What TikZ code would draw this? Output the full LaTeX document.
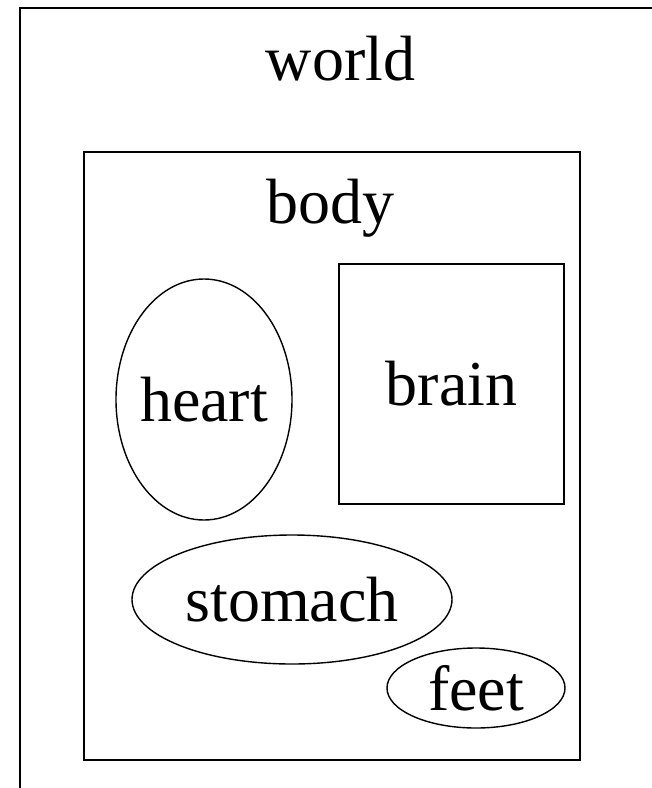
\documentclass[tikz,border=0pt]{standalone}
\usepackage{fontspec}
\setmainfont{Liberation Serif}
\usetikzlibrary{shapes.geometric}
\begin{document}
\begin{tikzpicture}[x=1pt,y=-1pt,
  font=\fontsize{64}{72}\selectfont,
  boxline/.style={draw, line width=2pt, rectangle, inner sep=0pt},
  ovalpart/.style={draw, line width=1.4pt, ellipse, inner sep=0pt},
  lbl/.style={anchor=base, inner sep=0pt}]
\useasboundingbox (0,0) rectangle (652,788);
\clip (0,0) rectangle (652,788);
\fill[white] (0,0) rectangle (652,788);
\node[boxline, minimum width=660pt, minimum height=812pt] (world) at (350,414) {};
\node[lbl] (worldlbl) at (340.5,80) {world};
\node[boxline, minimum width=496pt, minimum height=608pt] (body) at (332,456) {};
\node[lbl] (bodylbl) at (330,223) {body};
\node[ovalpart, minimum width=176pt, minimum height=241pt, label={[inner sep=0pt]center:heart}] (heart) at (204,399.5) {};
\node[boxline, minimum width=225pt, minimum height=240pt] (brain) at (451.5,384) {brain};
\node[ovalpart, minimum width=320pt, minimum height=129pt, label={[inner sep=0pt]center:stomach}] (stomach) at (292,599.5) {};
\node[ovalpart, minimum width=178pt, minimum height=80pt, label={[inner sep=0pt]center:feet}] (feet) at (476,688) {};
\end{tikzpicture}
\end{document}
